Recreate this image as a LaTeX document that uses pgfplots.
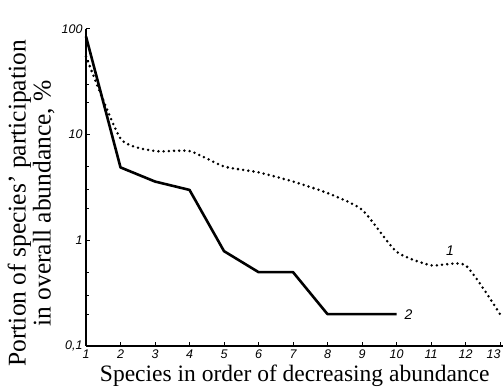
\documentclass[border=0pt]{standalone}
\usepackage{pgfplots}
\pgfplotsset{compat=1.18}
\usepackage{fontspec}
\setmainfont{Liberation Serif}
\setsansfont{Liberation Sans}
\begin{document}
\begin{tikzpicture}
\useasboundingbox (-86pt,-44pt) rectangle (417pt,346pt);
\begin{axis}[
 at={(0,0)}, anchor=south west,
 scale only axis, width=417.5pt, height=317pt,
 ymode=log, xmin=1, xmax=13.1, ymin=0.1, ymax=100,
 axis lines=left, axis line style={line width=1.3pt, -},
 xtick={1,...,12}, extra x ticks={13},
 extra x tick style={xticklabel style={anchor=north east, xshift=4pt}},
 ytick={0.1,1,10,100}, yticklabels={{0,1},1,10,100},
 minor ytick={0.2,0.3,0.5,2,3,5,20,30,50},
 tick align=inside, major tick length=4pt, minor tick length=3pt,
 tick style={line width=1pt,black},
 ticklabel style={font=\sffamily\itshape\fontsize{12.5}{12.5}\selectfont},
 /pgf/number format/assume math mode=true,
 xlabel={Species in order of decreasing abundance},
 ylabel={Portion of species' participation\\in overall abundance, \%},
 xlabel style={font=\fontsize{23.5}{23.5}\selectfont, at={(axis description cs:0.5,0)}, anchor=base, yshift=-36pt},
 ylabel style={font=\fontsize{25.5}{25}\selectfont, align=center, at={(axis description cs:-0.067,0.45)}, anchor=south},
 clip=false,
]
\addplot[black, line width=2.8pt, line cap=round, dash pattern=on 0pt off 5.2pt, smooth, tension=0.35] coordinates {
(1,55) (2,9.2) (3,7.0) (4,7.0) (5,5.0) (6,4.4) (7,3.6) (8,2.8) (9,1.95) (10,0.78) (11,0.58) (12,0.58) (13,0.2)};
\addplot[black, line width=2.6pt, line join=round] coordinates {
(1,85) (2,4.9) (3,3.6) (4,3.0) (5,0.79) (6,0.5) (7,0.5) (8,0.2) (9,0.2) (10,0.2)};
\node[font=\sffamily\itshape\fontsize{14}{14}\selectfont] at (axis cs:10.35,0.2) {2};
\node[font=\sffamily\itshape\fontsize{14}{14}\selectfont] at (axis cs:11.55,0.8) {1};
\end{axis}
\end{tikzpicture}
\end{document}
